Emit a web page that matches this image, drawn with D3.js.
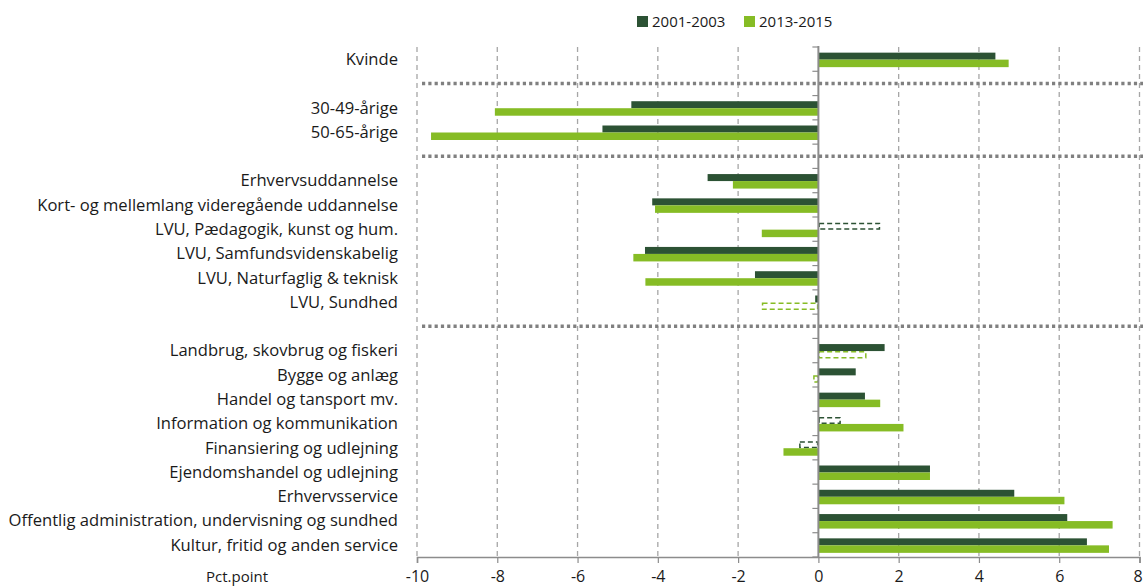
<!DOCTYPE html>
<html>
<head>
<meta charset="utf-8">
<script src="https://cdn.jsdelivr.net/npm/d3@7/dist/d3.min.js"></script>
<style>
  body { margin: 0; background: #fff; }
  svg { display: block; font-family: "Open Sans", "Noto Sans", sans-serif; }
</style>
</head>
<body>
<svg id="chart" width="1143" height="588"></svg>
<script>
// Slots (null = separator line)
const categories = [
  "Kvinde", null,
  "30-49-årige", "50-65-årige", null,
  "Erhvervsuddannelse", "Kort- og mellemlang videregående uddannelse",
  "LVU, Pædagogik, kunst og hum.", "LVU, Samfundsvidenskabelig",
  "LVU, Naturfaglig & teknisk", "LVU, Sundhed", null,
  "Landbrug, skovbrug og fiskeri", "Bygge og anlæg", "Handel og tansport mv.",
  "Information og kommunikation", "Finansiering og udlejning",
  "Ejendomshandel og udlejning", "Erhvervsservice",
  "Offentlig administration, undervisning og sundhed",
  "Kultur, fritid og anden service"
];
const seriesNames = ["2001-2003", "2013-2015"];
const values2001 = [4.41, null, -4.66, -5.38, null, -2.76, -4.14, 1.54, -4.32, -1.58, -0.08, null,
                    1.65, 0.93, 1.16, 0.56, -0.48, 2.78, 4.88, 6.20, 6.69];
const values2013 = [4.74, null, -8.06, -9.65, null, -2.13, -4.07, -1.41, -4.61, -4.31, -1.41, null,
                    1.20, -0.13, 1.54, 2.12, -0.87, 2.78, 6.13, 7.33, 7.24];
// significant = solid fill, not significant = dashed outline
const sig2001 = [true, null, true, true, null, true, true, false, true, true, true, null,
                 true, true, true, false, false, true, true, true, true];
const sig2013 = [true, null, true, true, null, true, true, true, true, true, false, null,
                 false, false, true, true, true, true, true, true, true];
const xTicks = [-10, -8, -6, -4, -2, 0, 2, 4, 6, 8];
const xUnit = "Pct.point";

const colors = ["#2c5234", "#86bc25"];

const svg = d3.select("#chart");
const x = d3.scaleLinear().domain([-10, 8]).range([417, 1139.5]);
const y = d3.scaleBand().domain(d3.range(categories.length)).range([47, 557]).padding(0);

// gridlines
svg.append("g").selectAll("line").data(xTicks.filter(t => t !== 0)).join("line")
  .attr("x1", d => x(d)).attr("x2", d => x(d))
  .attr("y1", 47).attr("y2", 557)
  .attr("stroke", "#a6a6a6").attr("stroke-width", 1.3).attr("stroke-dasharray", "5,4");

// separators
const sepIdx = categories.map((c, i) => c === null ? i : -1).filter(i => i >= 0);
svg.append("g").selectAll("line").data(sepIdx).join("line")
  .attr("x1", 422).attr("x2", 1143)
  .attr("y1", i => y(i) + y.bandwidth() / 2).attr("y2", i => y(i) + y.bandwidth() / 2)
  .attr("stroke", "#808080").attr("stroke-width", 3.5).attr("stroke-dasharray", "3.2,3.1");

// bars
const rows = categories.map((c, i) => ({ i, c })).filter(d => d.c !== null);
const series = [
  { vals: values2001, sig: sig2001, off: -6.5, h: 7, color: colors[0] },
  { vals: values2013, sig: sig2013, off: 0.5, h: 7.5, color: colors[1] }
];
series.forEach(s => {
  const g = svg.append("g");
  rows.forEach(r => {
    const v = s.vals[r.i];
    const cy = y(r.i) + y.bandwidth() / 2;
    const x0 = Math.min(x(0), x(v)), w = Math.abs(x(v) - x(0));
    if (s.sig[r.i]) {
      g.append("rect").attr("x", x0).attr("y", cy + s.off).attr("width", w).attr("height", s.h)
        .attr("fill", s.color);
    } else {
      g.append("rect").attr("x", x0 + 0.75).attr("y", cy + s.off + 0.75)
        .attr("width", Math.max(0, w - 1.5)).attr("height", s.h - 1.5)
        .attr("fill", "none").attr("stroke", s.color).attr("stroke-width", 1.5)
        .attr("stroke-dasharray", "5,3");
    }
  });
});

// zero axis line + left ticks at band boundaries
svg.append("line").attr("x1", x(0)).attr("x2", x(0)).attr("y1", 46).attr("y2", 557)
  .attr("stroke", "#8c8c8c").attr("stroke-width", 2);
svg.append("g").selectAll("line").data(d3.range(categories.length + 1)).join("line")
  .attr("x1", x(0) - 6).attr("x2", x(0))
  .attr("y1", i => 47 + i * y.step()).attr("y2", i => 47 + i * y.step())
  .attr("stroke", "#8c8c8c").attr("stroke-width", 1.2);

// category labels
svg.append("g").selectAll("text").data(rows).join("text")
  .attr("x", 398).attr("y", d => y(d.i) + y.bandwidth() / 2)
  .attr("dy", "0.35em").attr("text-anchor", "end")
  .attr("font-size", 16.6).attr("fill", "#1a1a1a").text(d => d.c);

// bottom axis
const xAxis = d3.axisBottom(x).tickValues(xTicks).tickSize(6).tickFormat(d => d < 0 ? "-" + Math.abs(d) : d);
const ax = svg.append("g").attr("transform", "translate(0,557)").call(xAxis);
ax.select(".domain").attr("stroke", "#8c8c8c").attr("stroke-width", 1.6);
ax.selectAll(".tick line").attr("stroke", "#8c8c8c").attr("stroke-width", 1.2);
ax.selectAll(".tick text").attr("font-size", 16).attr("fill", "#1a1a1a")
  .attr("font-family", "'Open Sans', sans-serif").attr("y", 25).attr("dy", "0")
  .attr("dx", d => d === 8 ? -2 : 0);

svg.append("text").attr("x", 237).attr("y", 582).attr("text-anchor", "middle")
  .attr("font-size", 15).attr("fill", "#1a1a1a").text(xUnit);

// legend
const leg = svg.append("g");
const legX = [637, 744];
seriesNames.forEach((n, i) => {
  leg.append("rect").attr("x", legX[i]).attr("y", 16).attr("width", 11).attr("height", 11).attr("fill", colors[i]);
  leg.append("text").attr("x", legX[i] + 15).attr("y", 27).attr("font-size", 15)
    .attr("fill", "#1a1a1a").text(n);
});
</script>
</body>
</html>
